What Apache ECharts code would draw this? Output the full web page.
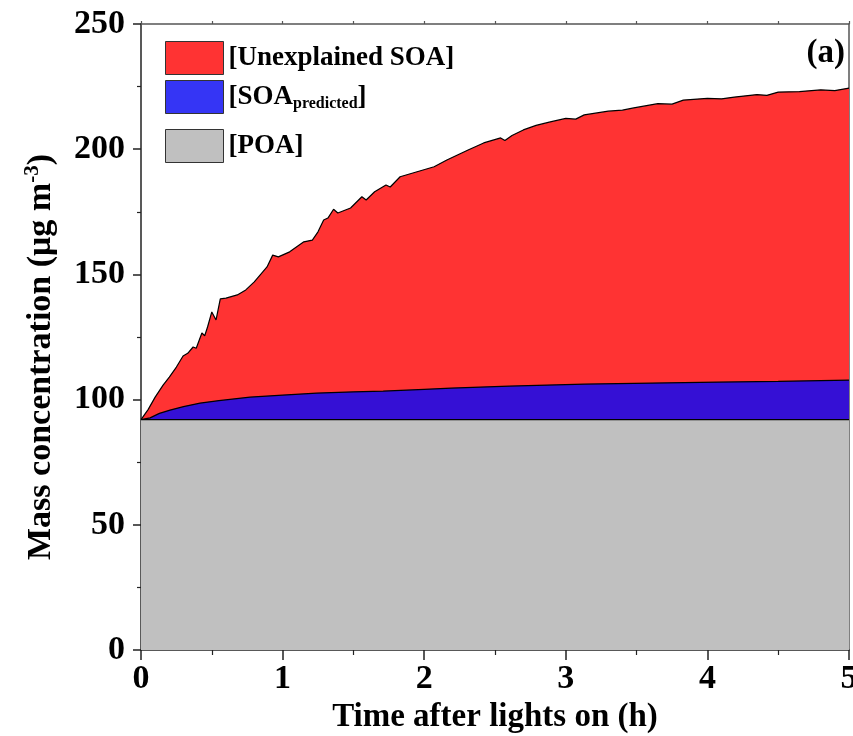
<!DOCTYPE html>
<html>
<head>
<meta charset="utf-8">
<script src="https://cdn.jsdelivr.net/npm/echarts@6/dist/echarts.min.js"></script>
<style>
  html, body { margin: 0; padding: 0; background: #fff; }
  #chart { width: 853px; height: 736px; }
</style>
</head>
<body>
<div id="chart"></div>
<script>
// Time after lights on (h) and total organic mass (POA + predicted SOA + unexplained SOA), µg m-3
const totalTime = [0, 0.05, 0.1, 0.156, 0.2, 0.25, 0.297, 0.33, 0.368, 0.39, 0.43, 0.45, 0.47, 0.5, 0.53,
  0.56, 0.6, 0.68, 0.74, 0.8, 0.86, 0.89, 0.93, 0.97, 1.05, 1.15, 1.21, 1.25, 1.29, 1.32, 1.36, 1.39,
  1.48, 1.56, 1.59, 1.65, 1.73, 1.76, 1.83, 1.95, 2.07, 2.16, 2.31, 2.42, 2.54, 2.57, 2.62, 2.7, 2.79,
  2.89, 3.0, 3.07, 3.13, 3.3, 3.4, 3.48, 3.65, 3.75, 3.83, 4.0, 4.1, 4.19, 4.35, 4.42, 4.5, 4.65, 4.8, 4.9, 5.0];
const totalMass = [92, 96, 101, 105.8, 109, 113, 117.4, 118.5, 121, 120.5, 126.6, 125.5, 129, 135, 131.8,
  140.2, 140.5, 141.8, 143.8, 147, 151, 153, 157.7, 157, 159, 163, 163.7, 167, 171.7, 172.5, 176, 174.5,
  176.5, 181, 179.7, 183, 185.7, 184.9, 189, 191, 193, 195.7, 199.7, 202.5, 204.5, 203.5, 205.5, 207.7, 209.5,
  210.9, 212.3, 212.0, 213.7, 215.2, 215.6, 216.5, 218.2, 218.0, 219.6, 220.3, 220.1, 220.8, 221.8, 221.5, 222.8, 223, 223.7, 223.4, 224.4];

// POA + predicted SOA, µg m-3
const predTime = [0, 0.064, 0.13, 0.205, 0.3, 0.417, 0.55, 0.77, 1.0, 1.24, 1.5, 1.71, 2.0, 2.19, 2.6, 3.13, 3.6, 4.07, 4.5, 5.0];
const predMass = [92, 92.7, 94.5, 95.8, 97.2, 98.6, 99.6, 101, 101.8, 102.6, 103.1, 103.4, 104.1, 104.6, 105.4, 106.2, 106.6, 107, 107.3, 107.8];

// Primary organic aerosol, constant after lights on
const poaTime = [0, 5];
const poaMass = [92, 92];

const xTicks = [0, 1, 2, 3, 4, 5];
const yTicks = [0, 50, 100, 150, 200, 250];

const FONT = '"Liberation Serif", "Times New Roman", serif';

const pairs = (xs, ys) => xs.map((x, i) => [x, ys[i]]);

const chart = echarts.init(document.getElementById('chart'), null, { renderer: 'canvas' });

const areaSeries = (name, data, color, z) => ({
  name, type: 'line', data, z,
  symbol: 'none', smooth: false,
  lineStyle: { color: '#000', width: 1.2 },
  itemStyle: { color },
  areaStyle: { color, opacity: 1, origin: 'start' }
});

// one legend block per entry so each swatch sits at its own height
const legendText = {
  fontFamily: FONT, fontWeight: 'bold', fontSize: 27, color: '#000',
  rich: {
    sub: { fontFamily: FONT, fontWeight: 'bold', fontSize: 16, color: '#000', padding: [14, 0, 0, 0] }
  }
};
const legendBlock = (name, color, top) => ({
  left: 165, top, padding: 0,
  itemWidth: 58, itemHeight: 33, itemGap: 0, icon: 'rect', selectedMode: false,
  data: [{ name, itemStyle: { color, borderColor: '#333', borderWidth: 1 } }],
  formatter: n => n === 'SOA predicted' ? '[SOA{sub|predicted}]' : '[' + n + ']',
  textStyle: legendText
});

chart.setOption({
  animation: false,
  textStyle: { fontFamily: FONT },
  grid: { left: 141, right: 4, top: 24, bottom: 86, outerBoundsMode: 'none', containLabel: false },
  legend: [
    legendBlock('Unexplained SOA', '#ff3333', 41),
    legendBlock('SOA predicted', '#3535f5', 80),
    legendBlock('POA', '#c0c0c0', 129)
  ],
  xAxis: [{
    type: 'value', min: 0, max: 5, interval: 1,
    name: 'Time after lights on (h)', nameLocation: 'middle', nameGap: 50,
    nameTextStyle: { fontFamily: FONT, fontWeight: 'bold', fontSize: 33, color: '#000' },
    axisLine: { lineStyle: { color: '#222', width: 1.5 } },
    axisTick: { show: true, inside: false, length: 10, lineStyle: { color: '#222', width: 1.5 } },
    minorTick: { show: true, splitNumber: 2, length: 5, lineStyle: { color: '#222', width: 1.2 } },
    axisLabel: { fontFamily: FONT, fontWeight: 'bold', fontSize: 34, color: '#000', margin: 12,
      formatter: v => xTicks.includes(v) ? String(v) : '' },
    splitLine: { show: false }
  }, {
    type: 'value', min: 0, max: 5, interval: 0.5, position: 'top',
    axisLine: { show: true, onZero: false, lineStyle: { color: '#555', width: 1.5 } },
    axisTick: { show: true, inside: false, length: 3, lineStyle: { color: '#555', width: 1.2 } },
    axisLabel: { show: false }, splitLine: { show: false }
  }],
  yAxis: [{
    type: 'value', min: 0, max: 250, interval: 50,
    name: 'Mass concentration (μg m{sup|-3})', nameLocation: 'middle', nameGap: 80, nameRotate: 90,
    nameTextStyle: {
      fontFamily: FONT, fontWeight: 'bold', fontSize: 34, color: '#000', padding: [0, 40, 0, 0],
      rich: { sup: { fontFamily: FONT, fontWeight: 'bold', fontSize: 21, color: '#000', padding: [0, 0, 18, 0] } }
    },
    axisLine: { show: true, lineStyle: { color: '#222', width: 1.5 } },
    axisTick: { show: true, inside: false, length: 8, lineStyle: { color: '#222', width: 1.5 } },
    minorTick: { show: true, splitNumber: 2, length: 4, lineStyle: { color: '#222', width: 1.2 } },
    axisLabel: { fontFamily: FONT, fontWeight: 'bold', fontSize: 34, color: '#000', margin: 16,
      formatter: v => yTicks.includes(v) ? String(v) : '' },
    splitLine: { show: false }
  }, {
    type: 'value', min: 0, max: 250, interval: 50, position: 'right',
    axisLine: { show: true, onZero: false, lineStyle: { color: '#555', width: 1.5 } },
    axisTick: { show: false }, axisLabel: { show: false }, splitLine: { show: false }
  }],
  series: [
    areaSeries('Unexplained SOA', pairs(totalTime, totalMass), '#ff3333', 2),
    areaSeries('SOA predicted', pairs(predTime, predMass), '#3510d5', 3),
    areaSeries('POA', pairs(poaTime, poaMass), '#c0c0c0', 4)
  ],
  graphic: [{
    type: 'text', right: 8, top: 37,
    style: { text: '(a)', font: 'bold 33px ' + FONT, fill: '#000' }
  }]
});
</script>
</body>
</html>
